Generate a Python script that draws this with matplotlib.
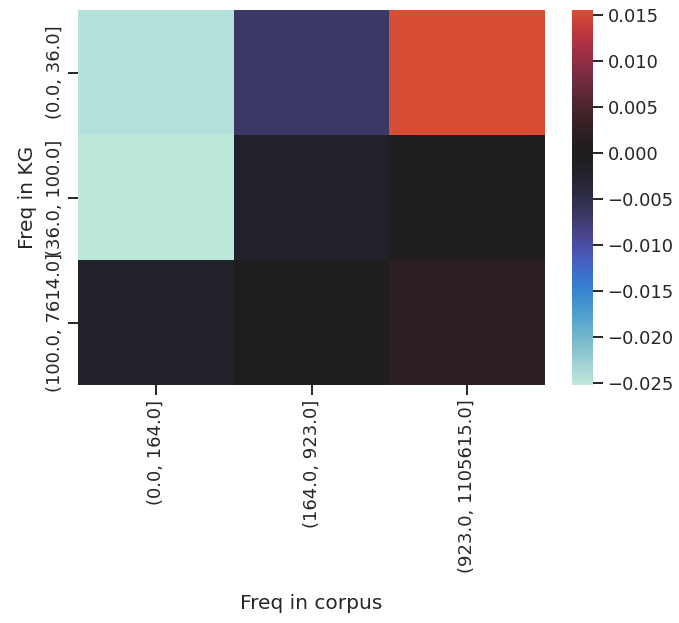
import matplotlib
matplotlib.use("Agg")
import matplotlib.pyplot as plt
import seaborn as sns
import numpy as np
import pandas as pd

row_labels = ["(0.0, 36.0]", "(36.0, 100.0]", "(100.0, 7614.0]"]
col_labels = ["(0.0, 164.0]", "(164.0, 923.0]", "(923.0, 1105615.0]"]
row0 = [-0.0245, -0.0068, 0.0155]
row1 = [-0.0252, -0.0020, -0.0003]
row2 = [-0.0022, -0.0001, 0.0022]

sns.set_theme(style="ticks", context="notebook", font_scale=1.25)
df = pd.DataFrame([row0, row1, row2], index=row_labels, columns=col_labels)

fig = plt.figure(figsize=(6.79, 6.23), dpi=100)
ax = fig.add_axes([78/679, 1 - 385/623, (545-78)/679, (385-10)/623])
cax = fig.add_axes([572/679, 1 - 385/623, (593-572)/679, (385-10)/623])
sns.heatmap(df, cmap="icefire", center=0, ax=ax, cbar_ax=cax)
ax.set_xlabel("Freq in corpus", fontsize=14.5, labelpad=15)
ax.set_ylabel("Freq in KG", fontsize=14.5, labelpad=6)
ax.tick_params(length=7, width=1.4, labelsize=13)
cax.tick_params(length=7, width=1.4, labelsize=13)
plt.setp(ax.get_xticklabels(), rotation=90)
plt.setp(ax.get_yticklabels(), rotation=90, va="center")
fig.savefig("out.png", dpi=100)
